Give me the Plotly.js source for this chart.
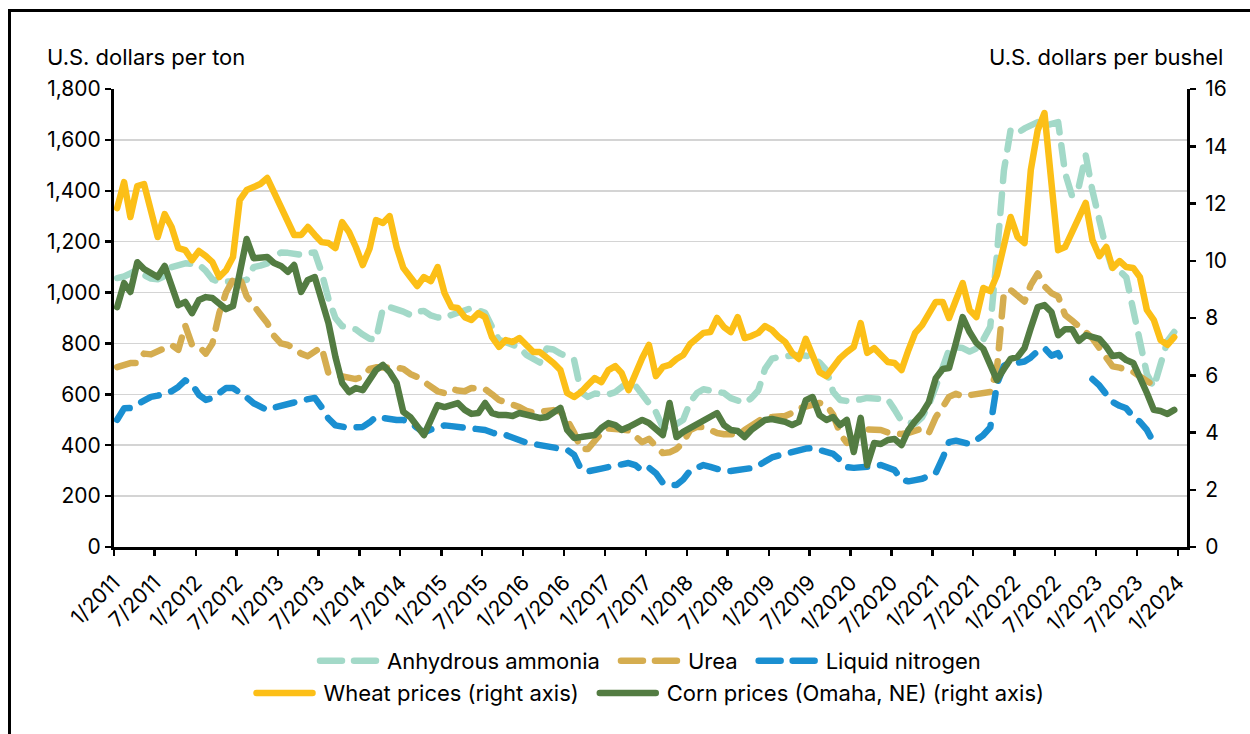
<!DOCTYPE html>
<html>
<head>
<meta charset="utf-8">
<script src="https://cdn.plot.ly/plotly-3.0.1.min.js"></script>
<style>
  html, body { margin: 0; padding: 0; background: #fff; }
  #wrap { position: relative; width: 1250px; height: 734px; overflow: hidden; }
  #chart { position: absolute; left: 0; top: 0; width: 1250px; height: 734px; }
  #frame { position: absolute; left: 8px; top: 9px; width: 1400px; height: 900px;
           border-left: 3px solid #000; border-top: 3px solid #000; pointer-events: none; }
  .js-line { stroke-linecap: round; stroke-linejoin: round; }
</style>
</head>
<body>
<div id="wrap"><div id="chart"></div><div id="frame"></div></div>
<script>
// Monthly observations, January 2011 – December 2023
const startYear = 2011, nMonths = 156;
const months = [];
for (let i = 0; i < nMonths; i++) {
  const y = startYear + Math.floor(i / 12), m = (i % 12) + 1;
  months.push(y + '-' + String(m).padStart(2, '0') + '-15');
}

// U.S. dollars per ton (left axis)
const anhydrous = [1057,1063,1075,1089,1069,1055,1052,1065,1100,1110,1115,1113,
  1110,1085,1052,1042,1041,1041,1045,1050,1100,1106,1115,1140,
  1157,1156,1152,1148,1155,1157,1080,975,900,868,862,855,
  835,818,815,938,943,935,925,912,925,928,910,902,
  900,912,922,930,939,930,920,865,814,805,795,785,
  755,738,725,780,776,760,745,735,609,590,603,600,
  600,609,630,650,635,595,565,530,470,465,480,500,
  570,605,620,617,612,605,585,572,566,585,615,700,
  740,747,750,752,755,752,745,725,695,610,578,574,
  574,580,586,586,586,580,540,495,490,485,510,560,
  630,700,775,785,782,768,780,815,865,1150,1480,1640,
  1627,1645,1660,1670,1655,1660,1670,1470,1380,1415,1540,1400,
  1275,1170,1090,1085,1060,930,800,680,629,720,810,845];

const urea = [707,718,723,723,760,757,770,785,794,775,870,795,
  788,760,800,920,1000,1050,1060,985,945,915,880,830,
  800,794,780,760,750,772,786,682,678,670,664,660,
  670,700,706,707,707,705,700,680,668,648,630,612,
  605,622,615,612,625,625,620,600,578,568,560,550,
  535,528,532,538,538,532,500,450,385,385,420,448,
  466,466,462,458,438,412,425,395,369,372,385,412,
  460,472,472,460,448,443,441,444,460,478,500,511,
  511,511,515,527,545,552,560,566,558,520,445,409,
  420,455,462,462,460,450,445,444,448,460,466,448,
  510,550,590,602,592,597,602,607,609,700,1000,1010,
  985,965,1030,1075,1025,998,985,912,890,870,845,820,
  782,745,710,705,698,688,670,650,635,null,null,null];

const liquidN = [500,545,546,560,572,590,595,603,612,629,655,640,
  598,578,585,605,625,625,608,588,565,548,538,548,
  553,560,568,576,582,586,550,505,478,470,468,470,
  472,490,512,507,502,499,499,490,468,450,462,472,
  478,475,472,469,468,467,460,450,441,440,428,418,
  410,405,400,394,391,388,382,362,305,297,300,308,
  314,320,326,330,322,300,312,290,252,244,244,265,
  300,315,322,315,305,299,299,302,307,310,320,335,
  352,360,366,373,383,387,389,382,375,366,342,314,
  311,312,314,318,322,315,302,265,258,263,268,280,
  291,350,412,418,410,405,420,440,470,640,712,727,
  724,729,745,770,782,752,762,707,null,null,null,660,
  635,600,570,555,545,512,492,460,410,null,null,null];

// U.S. dollars per bushel (right axis)
const wheat = [11.84,12.75,11.53,12.61,12.68,11.67,10.83,11.63,11.18,10.44,10.37,10.02,
  10.34,10.16,9.95,9.43,9.67,10.13,12.12,12.47,12.57,12.68,12.89,12.36,
  11.95,11.35,10.90,10.90,11.18,10.90,10.65,10.62,10.44,11.35,11.00,10.48,
  9.85,10.44,11.42,11.32,11.56,10.48,9.75,9.43,9.12,9.43,9.29,9.78,
  8.87,8.38,8.35,8.03,7.93,8.17,8.03,7.33,6.99,7.23,7.16,7.30,
  7.06,6.81,6.81,6.64,6.43,6.18,5.38,5.24,5.41,5.66,5.90,5.76,
  6.18,6.32,6.08,5.48,6.08,6.60,7.06,5.97,6.29,6.36,6.57,6.71,
  7.09,7.33,7.48,7.51,8.00,7.68,7.51,8.03,7.30,7.37,7.48,7.72,
  7.58,7.33,7.16,6.78,6.57,7.27,6.64,6.11,5.97,6.29,6.60,6.81,
  6.99,7.82,6.78,6.95,6.74,6.46,6.43,6.18,6.88,7.48,7.75,8.20,
  8.56,8.56,8.00,8.63,9.22,8.28,8.03,9.05,8.94,9.50,10.48,11.53,
  10.83,10.62,13.17,14.57,15.16,12.82,10.37,10.48,11.00,11.60,12.02,10.72,
  10.16,10.48,9.75,9.99,9.78,9.75,9.43,8.28,7.93,7.23,7.06,7.33];

const corn = [8.38,9.22,8.91,9.95,9.71,9.57,9.43,9.82,9.08,8.45,8.56,8.17,
  8.63,8.73,8.70,8.49,8.31,8.42,9.68,10.76,10.09,10.13,10.13,9.92,
  9.82,9.61,9.85,8.91,9.33,9.43,8.63,7.82,6.64,5.73,5.41,5.55,
  5.48,5.83,6.18,6.36,6.11,5.73,4.72,4.54,4.19,3.91,4.44,4.96,
  4.89,4.96,5.03,4.79,4.65,4.68,5.03,4.68,4.61,4.61,4.58,4.68,
  4.61,4.54,4.51,4.54,4.68,4.86,4.09,3.81,3.84,3.88,3.91,4.16,
  4.33,4.26,4.09,4.19,4.33,4.44,4.33,4.09,3.91,5.03,3.84,4.02,
  4.16,4.33,4.44,4.54,4.68,4.26,4.09,4.05,3.84,4.09,4.26,4.44,
  4.47,4.44,4.37,4.26,4.37,5.13,5.24,4.61,4.44,4.54,4.26,4.44,
  3.32,4.51,2.86,3.63,3.60,3.74,3.77,3.56,4.09,4.40,4.68,5.06,
  5.90,6.22,6.25,7.13,8.03,7.51,7.13,6.92,6.36,5.83,6.22,6.57,
  6.64,6.95,7.65,8.38,8.45,8.21,7.40,7.61,7.61,7.20,7.40,7.33,
  7.27,6.99,6.67,6.71,6.53,6.43,5.94,5.38,4.79,4.75,4.65,4.79];

const seriesNames = ['Anhydrous ammonia', 'Urea', 'Liquid nitrogen',
                     'Wheat prices (right axis)', 'Corn prices (Omaha, NE) (right axis)'];
const leftTicks = [0,200,400,600,800,1000,1200,1400,1600,1800];
const leftTickText = ['0','200','400','600','800','1,000','1,200','1,400','1,600','1,800'];
const rightTicks = [0,2,4,6,8,10,12,14,16];

const xTickVals = [], xTickText = [];
for (let y = 2011; y <= 2024; y++) {
  xTickVals.push(y + '-01-01'); xTickText.push('1/' + y);
  if (y < 2024) { xTickVals.push(y + '-07-01'); xTickText.push('7/' + y); }
}

const FONT = 'Inter, "Liberation Sans", Arial, sans-serif';
const dashPat = '19px,13px';
const SP = '\u2002'; // spacing after a legend entry that is followed by another

const traces = [
  { x: months, y: anhydrous, name: seriesNames[0] + SP, type: 'scatter', mode: 'lines',
    line: { color: '#a3d9c8', width: 6.5, dash: dashPat }, legend: 'legend' },
  { x: months, y: urea, name: seriesNames[1] + SP, type: 'scatter', mode: 'lines',
    line: { color: '#d5ad50', width: 6.5, dash: dashPat }, legend: 'legend' },
  { x: months, y: liquidN, name: seriesNames[2], type: 'scatter', mode: 'lines',
    line: { color: '#1a8fd1', width: 6.5, dash: dashPat }, connectgaps: false, legend: 'legend' },
  { x: months, y: wheat, name: seriesNames[3] + SP, type: 'scatter', mode: 'lines', yaxis: 'y2',
    line: { color: '#fcbf17', width: 6.5 }, legend: 'legend2' },
  { x: months, y: corn, name: seriesNames[4], type: 'scatter', mode: 'lines', yaxis: 'y2',
    line: { color: '#537c42', width: 6.5 }, legend: 'legend2' }
];

const layout = {
  width: 1250, height: 734,
  margin: { l: 114, r: 63, t: 89, b: 187, pad: 0 },
  paper_bgcolor: 'rgba(0,0,0,0)', plot_bgcolor: '#fff',
  font: { family: FONT, color: '#000', size: 21 },
  showlegend: true,
  xaxis: {
    type: 'date', range: ['2011-01-01', '2024-02-10'],
    tickvals: xTickVals, ticktext: xTickText, tickangle: -45,
    showgrid: false, zeroline: false,
    showline: true, linecolor: '#000', linewidth: 3,
    ticks: 'outside', ticklen: 6, tickwidth: 2.5, tickcolor: '#000',
    ticklabelstandoff: 6,
    tickfont: { family: FONT, size: 21, color: '#000' }
  },
  yaxis: {
    range: [0, 1800], tickvals: leftTicks, ticktext: leftTickText,
    showgrid: true, gridcolor: '#d4d4d4', gridwidth: 1.5, zeroline: false,
    showline: true, linecolor: '#000', linewidth: 3,
    ticks: 'outside', ticklen: 6, tickwidth: 2.5, tickcolor: '#000',
    tickfont: { family: FONT, size: 21, color: '#000' }
  },
  yaxis2: {
    range: [0, 16], tickvals: rightTicks, overlaying: 'y', side: 'right',
    showgrid: false, zeroline: false,
    showline: true, linecolor: '#000', linewidth: 3,
    ticks: 'outside', ticklen: 6, tickwidth: 2.5, tickcolor: '#000',
    ticklabelstandoff: 5,
    tickfont: { family: FONT, size: 21, color: '#000' }
  },
  legend: {
    orientation: 'h', x: 0.5, xanchor: 'center', y: -0.249, yanchor: 'middle',
    font: { family: FONT, size: 22, color: '#000' }, bgcolor: 'rgba(0,0,0,0)',
    itemwidth: 62, traceorder: 'normal'
  },
  legend2: {
    orientation: 'h', x: 0.5, xanchor: 'center', y: -0.319, yanchor: 'middle',
    font: { family: FONT, size: 22, color: '#000' }, bgcolor: 'rgba(0,0,0,0)',
    itemwidth: 62, traceorder: 'normal'
  },
  annotations: [
    { text: 'U.S. dollars per ton', xref: 'paper', yref: 'paper',
      x: -0.0643, xanchor: 'left', y: 1.0699, yanchor: 'middle', showarrow: false,
      font: { family: FONT, size: 22, color: '#000' } },
    { text: 'U.S. dollars per bushel', xref: 'paper', yref: 'paper',
      x: 1.0354, xanchor: 'right', y: 1.0699, yanchor: 'middle', showarrow: false,
      font: { family: FONT, size: 22, color: '#000' } }
  ]
};

Plotly.newPlot('chart', traces, layout, { displayModeBar: false, staticPlot: true }).then(() => {
  // lengthen the legend line samples to match the original's longer two-dash keys
  document.querySelectorAll('.legendlines path').forEach(p => {
    p.setAttribute('d', 'M5,0h56');
    const da = window.getComputedStyle(p).strokeDasharray;
    if (da && da !== 'none') {
      p.removeAttribute('stroke-dasharray');
      p.style.setProperty('stroke-dasharray', '22px, 12px', 'important');
      p.style.setProperty('stroke-dashoffset', '0px', 'important');
    }
  });
});
</script>
</body>
</html>
